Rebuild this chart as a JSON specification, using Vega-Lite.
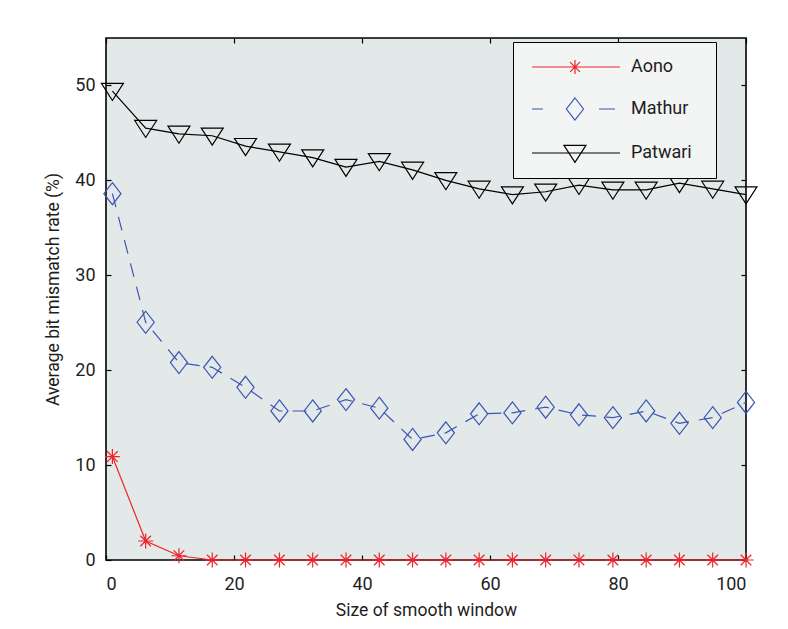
{
  "$schema": "https://vega.github.io/schema/vega-lite/v6.json",
  "width": 640,
  "height": 522,
  "autosize": "none",
  "padding": {"left": 106, "top": 38, "right": 42, "bottom": 69},
  "background": "white",
  "config": {
    "font": "Roboto",
    "view": {"fill": "#e3e9e9", "stroke": "#000000", "strokeWidth": 1.6},
    "axis": {
      "domain": false,
      "grid": false,
      "ticks": true,
      "tickSize": -5,
      "tickColor": "#000000",
      "tickWidth": 1.2,
      "labelFont": "Roboto",
      "labelFontSize": 18,
      "labelColor": "#1e1e1e",
      "titleFont": "Roboto",
      "titleFontSize": 17.5,
      "titleFontWeight": "normal",
      "titleColor": "#1e1e1e"
    }
  },
  "data": {
    "values": [
      {"series": "Aono", "x": 1, "y": 10.9},
      {"series": "Aono", "x": 6.2, "y": 2.0},
      {"series": "Aono", "x": 11.4, "y": 0.45},
      {"series": "Aono", "x": 16.6, "y": 0},
      {"series": "Aono", "x": 21.8, "y": 0},
      {"series": "Aono", "x": 27.1, "y": 0},
      {"series": "Aono", "x": 32.3, "y": 0},
      {"series": "Aono", "x": 37.5, "y": 0},
      {"series": "Aono", "x": 42.7, "y": 0},
      {"series": "Aono", "x": 47.9, "y": 0},
      {"series": "Aono", "x": 53.1, "y": 0},
      {"series": "Aono", "x": 58.3, "y": 0},
      {"series": "Aono", "x": 63.5, "y": 0},
      {"series": "Aono", "x": 68.7, "y": 0},
      {"series": "Aono", "x": 73.9, "y": 0},
      {"series": "Aono", "x": 79.2, "y": 0},
      {"series": "Aono", "x": 84.4, "y": 0},
      {"series": "Aono", "x": 89.6, "y": 0},
      {"series": "Aono", "x": 94.8, "y": 0},
      {"series": "Aono", "x": 100, "y": 0},
      {"series": "Mathur", "x": 1, "y": 38.6},
      {"series": "Mathur", "x": 6.2, "y": 25.05},
      {"series": "Mathur", "x": 11.4, "y": 20.8},
      {"series": "Mathur", "x": 16.6, "y": 20.3},
      {"series": "Mathur", "x": 21.8, "y": 18.2},
      {"series": "Mathur", "x": 27.1, "y": 15.7},
      {"series": "Mathur", "x": 32.3, "y": 15.7},
      {"series": "Mathur", "x": 37.5, "y": 16.9},
      {"series": "Mathur", "x": 42.7, "y": 16.0},
      {"series": "Mathur", "x": 47.9, "y": 12.7},
      {"series": "Mathur", "x": 53.1, "y": 13.4},
      {"series": "Mathur", "x": 58.3, "y": 15.4},
      {"series": "Mathur", "x": 63.5, "y": 15.5},
      {"series": "Mathur", "x": 68.7, "y": 16.1},
      {"series": "Mathur", "x": 73.9, "y": 15.3},
      {"series": "Mathur", "x": 79.2, "y": 15.0},
      {"series": "Mathur", "x": 84.4, "y": 15.7},
      {"series": "Mathur", "x": 89.6, "y": 14.4},
      {"series": "Mathur", "x": 94.8, "y": 15.0},
      {"series": "Mathur", "x": 100, "y": 16.6},
      {"series": "Patwari", "x": 1, "y": 49.4},
      {"series": "Patwari", "x": 6.2, "y": 45.5},
      {"series": "Patwari", "x": 11.4, "y": 44.9},
      {"series": "Patwari", "x": 16.6, "y": 44.7},
      {"series": "Patwari", "x": 21.8, "y": 43.6},
      {"series": "Patwari", "x": 27.1, "y": 43.0},
      {"series": "Patwari", "x": 32.3, "y": 42.4},
      {"series": "Patwari", "x": 37.5, "y": 41.4},
      {"series": "Patwari", "x": 42.7, "y": 42.0},
      {"series": "Patwari", "x": 47.9, "y": 41.1},
      {"series": "Patwari", "x": 53.1, "y": 40.0},
      {"series": "Patwari", "x": 58.3, "y": 39.1},
      {"series": "Patwari", "x": 63.5, "y": 38.5},
      {"series": "Patwari", "x": 68.7, "y": 38.8},
      {"series": "Patwari", "x": 73.9, "y": 39.5},
      {"series": "Patwari", "x": 79.2, "y": 39.0},
      {"series": "Patwari", "x": 84.4, "y": 39.0},
      {"series": "Patwari", "x": 89.6, "y": 39.7},
      {"series": "Patwari", "x": 94.8, "y": 39.1},
      {"series": "Patwari", "x": 100, "y": 38.5}
    ]
  },
  "layer": [
    {
      "transform": [{"filter": "datum.series !== 'Mathur'"}],
      "mark": {"type": "line", "strokeWidth": 1.2, "clip": false},
      "encoding": {
        "x": {
          "field": "x", "type": "quantitative",
          "scale": {"domain": [0, 100], "nice": false, "zero": false},
          "axis": {"orient": "bottom", "values": [0, 20, 40, 60, 80, 100], "title": "Size of smooth window", "labelPadding": 20, "titlePadding": 8}
        },
        "y": {
          "field": "y", "type": "quantitative",
          "scale": {"domain": [0, 55], "nice": false},
          "axis": {"orient": "left", "values": [0, 10, 20, 30, 40, 50], "title": "Average bit mismatch rate (%)", "labelPadding": 16, "titlePadding": 12, "titleY": 251}
        },
        "color": {
          "field": "series", "type": "nominal",
          "scale": {"domain": ["Aono", "Mathur", "Patwari"], "range": ["#f0222a", "#3a55b4", "#000000"]},
          "legend": {
            "title": null,
            "orient": "none",
            "legendX": 407,
            "legendY": 4,
            "padding": 13,
            "fillColor": "#f3f4f4",
            "strokeColor": "#000000",
            "symbolSize": 484,
            "symbolStrokeWidth": 1.2,
            "symbolFillColor": "transparent",
            "labelFont": "Roboto",
            "labelFontSize": 18,
            "labelColor": "#1e1e1e",
            "labelOffset": 81,
            "rowPadding": 18,
            "encode": {
              "symbols": {
                "update": {
                  "shape": {"signal": "datum.value === 'Aono' ? 'M-0.55,0L7.45,0M3.36,-0.64L3.36,0.64M2.72,0L4,0M2.91,-0.45L3.81,0.45M2.91,0.45L3.81,-0.45M14.7,0' : datum.value === 'Mathur' ? 'M-0.55,0L0.45,0M3.36,-1L4.14,0L3.36,1L2.58,0ZM5.55,0L7,0M14.7,0' : 'M-0.55,0L7.45,0M2.36,-0.7L4.36,-0.7L3.36,0.85ZM14.7,0'"},
                  "fill": {"value": "transparent"},
                  "strokeWidth": {"value": 1.2},
                  "size": {"value": 484},
                  "opacity": {"value": 1}
                }
              }
            }
          }
        }
      }
    },
    {
      "transform": [{"filter": "datum.series === 'Mathur'"}],
      "mark": {"type": "line", "strokeWidth": 1.2, "color": "#3a55b4", "strokeDash": [14, 10], "clip": false},
      "encoding": {
        "x": {"field": "x", "type": "quantitative", "axis": null},
        "y": {"field": "y", "type": "quantitative", "axis": null}
      }
    },
    {
      "transform": [{"filter": "datum.series === 'Aono'"}],
      "mark": {"type": "point", "filled": false, "strokeWidth": 1.2, "size": 484, "opacity": 1, "clip": false, "color": "#f0222a", "shape": "M0,-0.68L0,0.68M-0.68,0L0.68,0M-0.48,-0.48L0.48,0.48M-0.48,0.48L0.48,-0.48"},
      "encoding": {
        "x": {"field": "x", "type": "quantitative", "axis": null},
        "y": {"field": "y", "type": "quantitative", "axis": null}
      }
    },
    {
      "transform": [{"filter": "datum.series === 'Mathur'"}],
      "mark": {"type": "point", "filled": false, "strokeWidth": 1.2, "size": 484, "opacity": 1, "clip": false, "color": "#3a55b4", "shape": "M0,-1L0.78,0L0,1L-0.78,0Z"},
      "encoding": {
        "x": {"field": "x", "type": "quantitative", "axis": null},
        "y": {"field": "y", "type": "quantitative", "axis": null}
      }
    },
    {
      "transform": [{"filter": "datum.series === 'Patwari'"}],
      "mark": {"type": "point", "filled": false, "strokeWidth": 1.2, "size": 484, "opacity": 1, "clip": false, "color": "#000000", "shape": "M-1,-0.7L1,-0.7L0,0.85Z"},
      "encoding": {
        "x": {"field": "x", "type": "quantitative", "axis": null},
        "y": {"field": "y", "type": "quantitative", "axis": null}
      }
    },
    {
      "mark": {"type": "point", "opacity": 0},
      "encoding": {
        "x": {"field": "x", "type": "quantitative", "axis": {"orient": "top", "values": [0, 20, 40, 60, 80, 100], "labels": false, "title": null}},
        "y": {"field": "y", "type": "quantitative", "axis": {"orient": "right", "values": [0, 10, 20, 30, 40, 50], "labels": false, "title": null}}
      }
    }
  ],
  "resolve": {"axis": {"x": "independent", "y": "independent"}}
}
